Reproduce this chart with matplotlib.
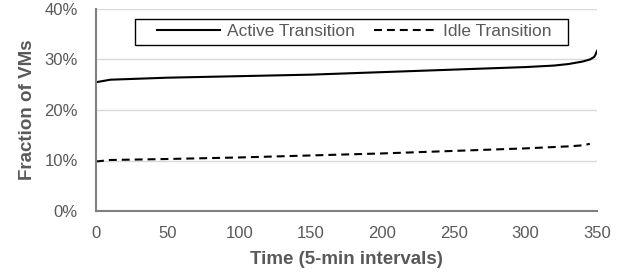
import matplotlib
matplotlib.use('Agg')
import matplotlib.pyplot as plt
from matplotlib.patches import Rectangle
from matplotlib.ticker import PercentFormatter

plt.rcParams['font.family'] = ['Liberation Sans', 'DejaVu Sans']

# data (fraction of VMs, %)
active_x = [0, 10, 50, 100, 150, 200, 250, 300, 320, 330, 340, 345, 348, 349, 350]
active_y = [25.5, 26.0, 26.4, 26.7, 27.0, 27.5, 28.0, 28.5, 28.8, 29.1, 29.6, 30.0, 30.5, 31.0, 31.7]
idle_x = [0, 10, 50, 100, 150, 200, 250, 300, 330, 340, 345]
idle_y = [9.8, 10.1, 10.3, 10.6, 11.0, 11.4, 11.9, 12.4, 12.8, 13.0, 13.3]

gray = '#595959'

fig = plt.figure(figsize=(6.35, 2.75), dpi=100)
ax = fig.add_axes([96/635, 1 - 211/275, 501/635, 202/275])

ax.plot(active_x, active_y, color='black', linewidth=1.5, label='Active Transition')
ax.plot(idle_x, idle_y, color='black', linewidth=1.5, linestyle=(0, (3.8, 2.4)), label='Idle Transition')

ax.set_xlim(0, 350)
ax.set_ylim(0, 40)
ax.set_xticks(range(0, 351, 50))
ax.set_yticks(range(0, 41, 10))
ax.yaxis.set_major_formatter(PercentFormatter(decimals=0))
ax.grid(axis='y', color='#d9d9d9', linewidth=1)
ax.set_axisbelow(True)
for s in ['top', 'right']:
    ax.spines[s].set_visible(False)
for s in ['left', 'bottom']:
    ax.spines[s].set_color('#808080')
    ax.spines[s].set_linewidth(1.5)
ax.tick_params(length=0, labelsize=12, labelcolor=gray)
ax.tick_params(axis='x', pad=11)
ax.tick_params(axis='y', pad=13)
ax.set_xlabel('Time (5-min intervals)', fontsize=13.5, fontweight='bold', color=gray, labelpad=7)
ax.set_ylabel('Fraction of VMs', fontsize=13.5, fontweight='bold', color=gray, labelpad=6)

# legend box drawn separately (wider side padding than matplotlib's frame)
ax.add_patch(Rectangle((0.078, 0.824), 0.864, 0.126, transform=ax.transAxes,
                       facecolor='white', edgecolor='black', linewidth=1, zorder=5))
leg = ax.legend(loc='center left', ncol=2, bbox_to_anchor=(0.122, 0.887), frameon=False,
                fontsize=12.5, handlelength=3.6, columnspacing=1.1, borderpad=0,
                borderaxespad=0, handletextpad=0.4)
leg.set_zorder(6)
for t in leg.get_texts():
    t.set_color(gray)

fig.savefig('out.png', dpi=100)
